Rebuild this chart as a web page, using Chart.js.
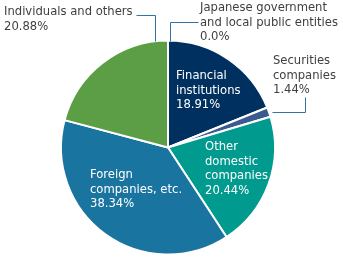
<!DOCTYPE html>
<html>
<head>
<meta charset="utf-8">
<script src="https://cdn.jsdelivr.net/npm/chart.js@4"></script>
<style>
  body { margin: 0; background: #fff; }
</style>
</head>
<body>
<canvas id="myChart" width="343" height="257"></canvas>
<script>
// data
const categories = [
    ['Japanese government', 'and local public entities'],
    ['Financial', 'institutions'],
    ['Securities', 'companies'],
    ['Other', 'domestic', 'companies'],
    ['Foreign', 'companies, etc.'],
    ['Individuals and others']
];
const shares = [0.0, 18.91, 1.44, 20.44, 38.34, 20.88];
const shareText = ['0.0%', '18.91%', '1.44%', '20.44%', '38.34%', '20.88%'];
const colors = ['#00305f', '#00305f', '#3b5a8f', '#009a8e', '#1a74a0', '#5c9e45'];

// where each label goes: x, first line y, text colour, leader line points
const labelLayout = [
    { x: 200, y: 8, color: '#404040', line: [[170, 41], [170, 22], [198, 22]] },
    { x: 176, y: 76, color: '#ffffff' },
    { x: 273, y: 61, color: '#404040', line: [[272, 112], [305, 112], [305, 97]] },
    { x: 205, y: 147, color: '#ffffff' },
    { x: 90, y: 175, color: '#ffffff' },
    { x: 4, y: 12, color: '#404040', line: [[136, 15], [155, 15], [155, 41]] }
];

const labelPlugin = {
    id: 'labels',
    afterDraw(chart) {
        const ctx = chart.ctx;
        ctx.save();
        ctx.font = '11.6px "DejaVu Sans", sans-serif';
        ctx.textBaseline = 'middle';
        ctx.textAlign = 'left';
        labelLayout.forEach(function(lay, i) {
            if (lay.line) {
                ctx.strokeStyle = '#2e75a6';
                ctx.lineWidth = 1;
                ctx.beginPath();
                lay.line.forEach(function(p, k) {
                    if (k === 0) ctx.moveTo(p[0] + 0.5, p[1] + 0.5);
                    else ctx.lineTo(p[0] + 0.5, p[1] + 0.5);
                });
                ctx.stroke();
            }
            ctx.fillStyle = lay.color;
            const lines = categories[i].concat([shareText[i]]);
            lines.forEach(function(t, k) {
                ctx.fillText(t, lay.x, lay.y + k * 14.7);
            });
        });
        ctx.restore();
    }
};

let ctx = document.getElementById('myChart').getContext('2d');
const myChart = new Chart(ctx, {
    type: 'pie',
    data: {
        labels: categories.map(c => c.join(' ')),
        datasets: [{
            data: shares,
            backgroundColor: colors,
            borderColor: '#ffffff',
            borderWidth: 2
        }]
    },
    options: {
        responsive: false,
        animation: false,
        layout: { padding: { left: 60, right: 67, top: 39, bottom: 1 } },
        plugins: {
            legend: { display: false },
            tooltip: { enabled: false }
        }
    },
    plugins: [labelPlugin]
});
</script>
</body>
</html>
